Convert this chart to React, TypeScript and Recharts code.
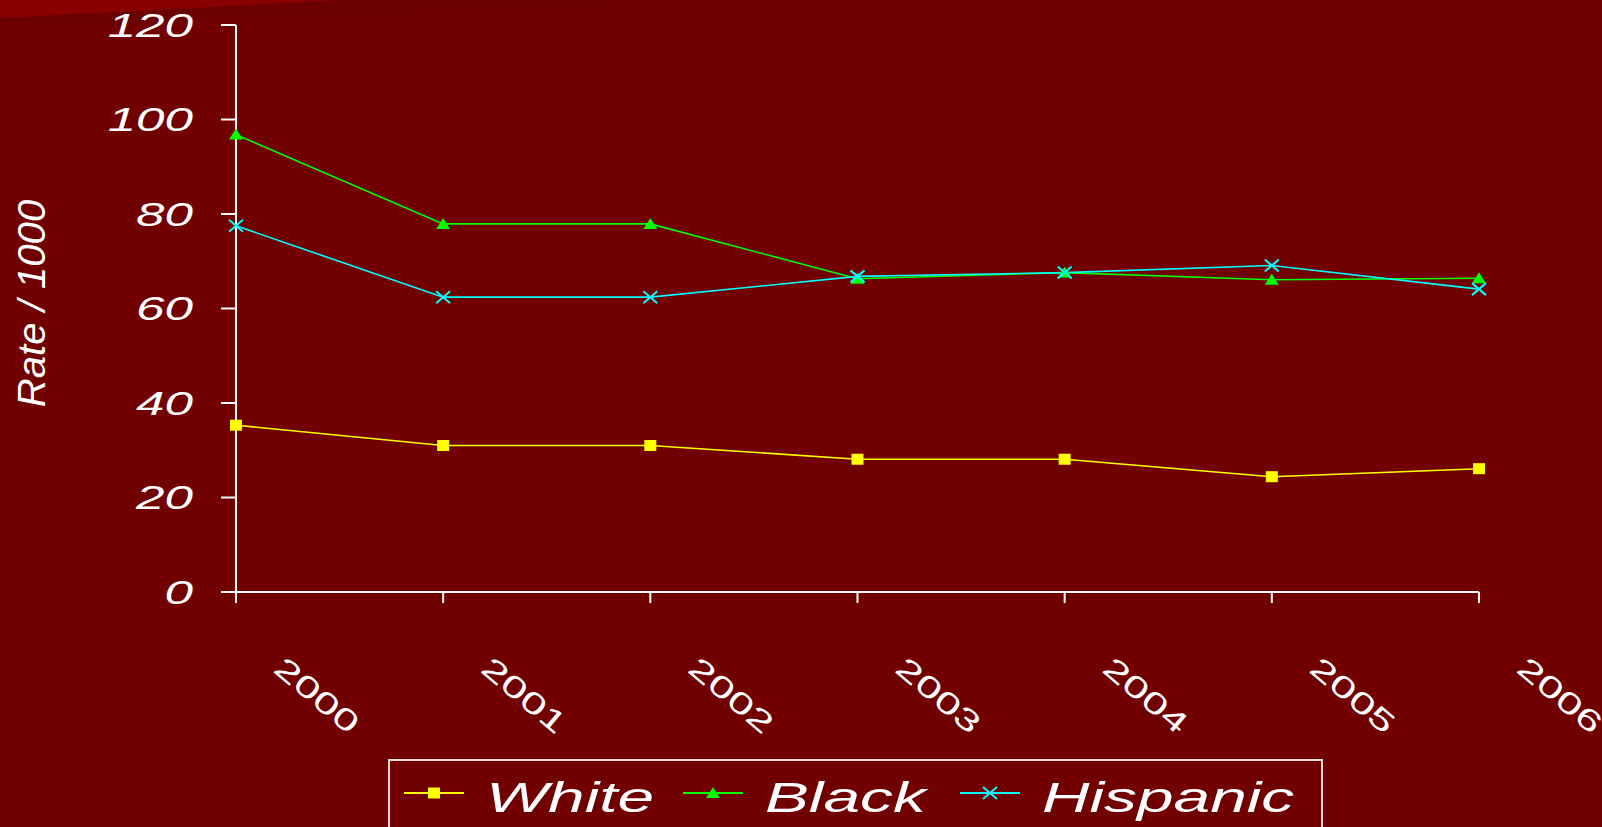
import React from 'react';
import { LineChart, Line, XAxis, YAxis, Legend } from 'recharts';

const years = ['2000', '2001', '2002', '2003', '2004', '2005', '2006'];
const whiteRates = [35.3, 31, 31, 28.1, 28.1, 24.4, 26.1];
const blackRates = [96.8, 77.9, 77.9, 66.3, 67.6, 66.1, 66.4];
const hispanicRates = [77.5, 62.4, 62.4, 66.8, 67.6, 69.1, 64.1];
const yTicks = [0, 20, 40, 60, 80, 100, 120];
const seriesNames = ['White', 'Black', 'Hispanic'];
const seriesColors = ['#FFFF00', '#00FF00', '#00FFFF'];
const yTitle = 'Rate / 1000';

const data = years.map((y, i) => ({
  year: y,
  White: whiteRates[i],
  Black: blackRates[i],
  Hispanic: hispanicRates[i],
}));

const FONT = '"Liberation Sans", Arial, sans-serif';
const BG = '#710000';

const Marker = ({ kind, cx, cy, color }: any) => {
  if (cx == null || cy == null) return null;
  if (kind === 0) {
    return <rect x={cx - 6} y={cy - 5.5} width={12} height={11} fill={color} />;
  }
  if (kind === 1) {
    return <polygon points={`${cx},${cy - 6} ${cx + 7},${cy + 5} ${cx - 7},${cy + 5}`} fill={color} />;
  }
  return (
    <path
      d={`M${cx - 7},${cy - 6}L${cx + 7},${cy + 6}M${cx + 7},${cy - 6}L${cx - 7},${cy + 6}`}
      stroke={color}
      strokeWidth={2}
      fill="none"
    />
  );
};

const XTick = ({ x, y, payload }: any) => (
  <text
    transform={`translate(${x + 36},${y + 66}) rotate(40) scale(1.5,1)`}
    fill="#ffffff"
    fontSize={30}
    fontFamily={FONT}
  >
    {payload.value}
  </text>
);

const YTick = ({ x, y, payload }: any) => (
  <text
    transform={`translate(${x - 26},${y}) scale(1.55,1)`}
    fill="#ffffff"
    fontSize={33}
    fontStyle="italic"
    fontFamily={FONT}
    textAnchor="end"
    dy="0.35em"
  >
    {payload.value}
  </text>
);

const YTitle = (props: any) => {
  const vb = props.viewBox || { x: 0, y: 25, width: 236, height: 567 };
  const cx = vb.x + 31;
  const cy = vb.y + vb.height / 2 - 5;
  return (
    <text
      transform={`translate(${cx},${cy}) rotate(-90) scale(1.18,1.15)`}
      fill="#ffffff"
      fontSize={34}
      fontStyle="italic"
      fontFamily={FONT}
      textAnchor="middle"
      dy="0.35em"
    >
      {yTitle}
    </text>
  );
};

const legendOffsets = [14, 293, 570];

const LegendContent = () => (
  <svg width={931} height={76} style={{ display: 'block' }}>
    {seriesNames.map((name, i) => {
      const x0 = legendOffsets[i];
      const ly = 32;
      return (
        <g key={name}>
          <line x1={x0} y1={ly} x2={x0 + 60} y2={ly} stroke={seriesColors[i]} strokeWidth={2} />
          <Marker kind={i} cx={x0 + 30} cy={ly} color={seriesColors[i]} />
          <text
            x={0}
            y={0}
            transform={`translate(${x0 + 82},${ly + 19}) scale(1.53,1)`}
            fill="#ffffff"
            fontSize={43}
            fontStyle="italic"
            fontFamily={FONT}
          >
            {name}
          </text>
        </g>
      );
    })}
  </svg>
);

export default function App() {
  const keys = ['White', 'Black', 'Hispanic'];
  return (
    <div
      style={{
        position: 'fixed',
        left: 0,
        top: 0,
        width: 1602,
        height: 827,
        background: BG,
        overflow: 'hidden',
      }}
    >
      <svg width={1602} height={827} style={{ position: 'absolute', left: 0, top: 0 }}>
        <polygon points="0,18 340,0 760,0 0,30" fill="#6b0000" />
        <polygon points="0,0 340,0 0,18" fill="#8a0000" />
      </svg>
      <div style={{ position: 'absolute', left: 0, top: 0 }}>
        <LineChart
          width={1602}
          height={827}
          data={data}
          margin={{ top: 25, right: 123, left: 0, bottom: 0 }}
        >
          <XAxis
            dataKey="year"
            height={235}
            interval={0}
            tickSize={11}
            axisLine={{ stroke: '#ffffff', strokeWidth: 2 }}
            tickLine={{ stroke: '#ffffff', strokeWidth: 2 }}
            tick={<XTick />}
          />
          <YAxis
            width={236}
            domain={[0, 120]}
            ticks={yTicks}
            interval={0}
            tickSize={15}
            axisLine={{ stroke: '#ffffff', strokeWidth: 2 }}
            tickLine={{ stroke: '#ffffff', strokeWidth: 2 }}
            tick={<YTick />}
            label={<YTitle />}
          />
          <Legend
            layout="horizontal"
            verticalAlign="middle"
            align="center"
            content={<LegendContent />}
            wrapperStyle={{
              left: 388,
              top: 759,
              bottom: 'auto',
              right: 'auto',
              width: 935,
              height: 80,
              border: '2px solid #dcdcdc',
              boxSizing: 'border-box',
            }}
          />
          {keys.map((k, i) => (
            <Line
              key={k}
              type="linear"
              dataKey={k}
              stroke={seriesColors[i]}
              strokeWidth={1.6}
              isAnimationActive={false}
              dot={(p: any) => (
                <Marker key={`${k}-${p.index}`} kind={i} cx={p.cx} cy={p.cy} color={seriesColors[i]} />
              )}
              activeDot={false}
            />
          ))}
        </LineChart>
      </div>
    </div>
  );
}
